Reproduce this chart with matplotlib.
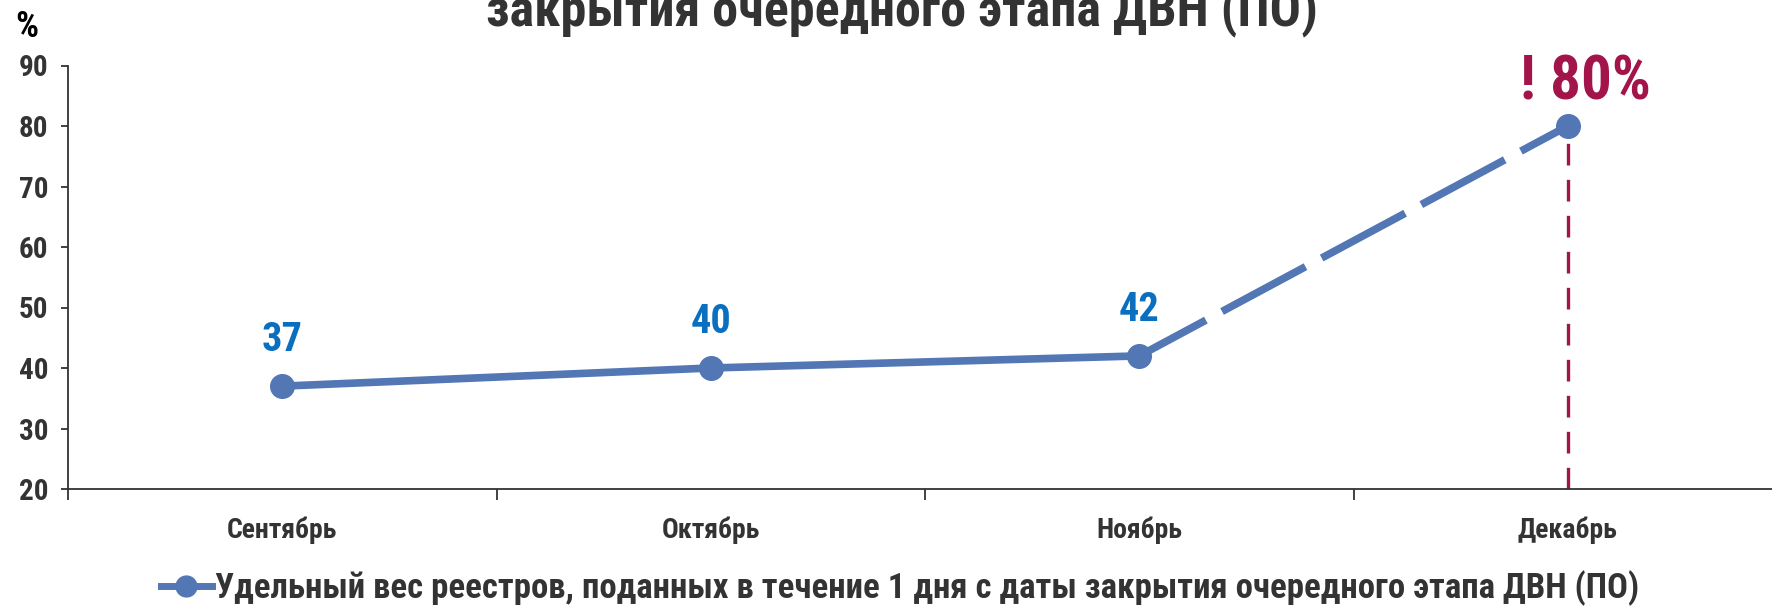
import matplotlib
matplotlib.use("Agg")
import matplotlib.pyplot as plt
from matplotlib import font_manager

months = ["Сентябрь", "Октябрь", "Ноябрь", "Декабрь"]
shares = [37, 40, 42, 80]
value_labels = ["37", "40", "42", "! 80%"]
y_ticks = [20, 30, 40, 50, 60, 70, 80, 90]
series_name = "Удельный вес реестров, поданных в течение 1 дня с даты закрытия очередного этапа ДВН (ПО)"
title_line = "закрытия очередного этапа ДВН (ПО)"

# узкий шрифт, если есть
names = {f.name for f in font_manager.fontManager.ttflist}
family = "Roboto"
for cand in ["Roboto Condensed", "Liberation Sans Narrow", "Roboto"]:
    if cand in names:
        family = cand
        break
plt.rcParams["font.family"] = [family, "DejaVu Sans"]
plt.rcParams["font.weight"] = "bold"

blue = "#5277B4"
label_blue = "#0B6FC0"
crimson = "#A3154A"
dark = "#333333"

fig = plt.figure(figsize=(17.72, 6.06), dpi=100)
ax = fig.add_axes([68 / 1772, 117 / 606, 1714 / 1772, 423.5 / 606])

x = list(range(len(months)))
lw = 5.5
# сплошная часть
ax.plot(x[:3], shares[:3], color=blue, lw=lw, solid_capstyle="round", zorder=3)
# прогноз пунктиром
ax.plot(x[2:], shares[2:], color=blue, lw=lw, ls=(2.5, (12.4, 2.4)), dash_capstyle="butt", zorder=3)
ax.plot(x, shares, linestyle="none", marker="o", ms=17, color=blue, zorder=4)

# вертикальная линия к декабрю
ax.plot([x[3], x[3]], [20, shares[3]], color=crimson, lw=2.4, dashes=(6.5, 4.3), zorder=2)

for i, (v, t) in enumerate(zip(shares, value_labels)):
    if i == 3:
        ax.annotate(t, (i, v), xytext=(13, 31), textcoords="offset points",
                    ha="center", va="center", fontsize=44, color=crimson, fontweight="bold")
    else:
        ax.annotate(t, (i, v), xytext=(0, 33), textcoords="offset points",
                    ha="center", va="center", fontsize=29, color=label_blue, fontweight="bold")

ax.set_xlim(-0.5, 3.5)
ax.set_ylim(20, 90)
ax.set_yticks(y_ticks)
ax.set_yticklabels([str(t) for t in y_ticks], fontsize=21, color=dark)
ax.set_xticks([-0.5, 0.5, 1.5, 2.5, 3.5])
ax.set_xticklabels([])
ax.set_xticks(x, minor=True)
ax.set_xticklabels(months, minor=True, fontsize=20, color=dark)
ax.tick_params(axis="x", which="minor", length=0, pad=20)
ax.tick_params(axis="x", which="major", length=8, width=1.3, color=dark, direction="out")
ax.tick_params(axis="y", length=5, width=1.3, color=dark, pad=9)

for s in ["top", "right"]:
    ax.spines[s].set_visible(False)
for s in ["left", "bottom"]:
    ax.spines[s].set_color(dark)
    ax.spines[s].set_linewidth(1.3)

fig.text(27 / 1772, 1 - 37 / 606, "%", fontsize=26, color="black", fontweight="bold",
         ha="center", va="baseline")
fig.text(902 / 1772, 1 - 25 / 606, title_line, fontsize=37.5, color=dark, fontweight="bold",
         ha="center", va="baseline")

# легенда
leg = fig.legend(
    [plt.Line2D([], [], color=blue, lw=5, marker="o", ms=15)],
    [series_name], loc="center", bbox_to_anchor=(0.508, 1 - 588 / 606),
    frameon=False, handlelength=1.45, handletextpad=0.1,
    prop={"weight": "bold", "size": 25},
)
for t in leg.get_texts():
    t.set_color(dark)

fig.savefig("out.png", dpi=100)
